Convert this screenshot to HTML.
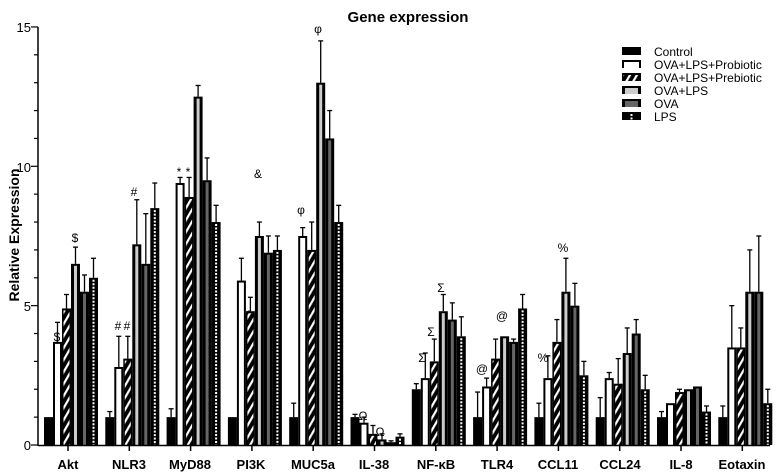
<!DOCTYPE html>
<html><head><meta charset="utf-8"><style>
body{margin:0;background:#fff}
svg{display:block;font-family:"Liberation Sans",Arial,sans-serif}
</style></head><body>
<svg id="s" width="776" height="474" viewBox="0 0 776 474">
<defs>
<pattern id="diag" patternUnits="userSpaceOnUse" width="6" height="6" patternTransform="rotate(30)">
<rect width="6" height="6" fill="#000"/><rect x="0" width="2.2" height="6" fill="#fff"/>
</pattern>
</defs>
<text x="408" y="22" font-size="15" font-weight="bold" text-anchor="middle">Gene expression</text>
<text transform="translate(19,235) rotate(-90)" font-size="14" font-weight="bold" text-anchor="middle">Relative Expression</text>
<g font-size="13" text-anchor="end">
<text x="31" y="450">0</text><text x="31" y="311">5</text><text x="31" y="172">10</text><text x="31" y="32">15</text>
</g>
<g font-size="13" font-weight="bold" text-anchor="middle">
<text x="68" y="469">Akt</text><text x="129" y="469">NLR3</text><text x="190" y="469">MyD88</text><text x="251" y="469">PI3K</text><text x="313" y="469">MUC5a</text><text x="374" y="469">IL-38</text><text x="436" y="469">NF-κB</text><text x="497" y="469">TLR4</text><text x="558" y="469">CCL11</text><text x="620" y="469">CCL24</text><text x="681" y="469">IL-8</text><text x="742" y="469">Eotaxin</text>
</g>
<g font-size="12">
<text x="654" y="56">Control</text><text x="654" y="69">OVA+LPS+Probiotic</text><text x="654" y="82">OVA+LPS+Prebiotic</text><text x="654" y="95">OVA+LPS</text><text x="654" y="108">OVA</text><text x="654" y="121">LPS</text>
</g>
<g font-size="12" text-anchor="middle">
<text x="57" y="341">$</text><text x="66" y="320">$</text><text x="75" y="242">$</text>
<text x="118" y="330">#</text><text x="127" y="330">#</text><text x="134" y="196">#</text>
<text x="179" y="176">*</text><text x="188" y="176">*</text><text x="196" y="138">*</text>
<text x="258" y="178">&amp;</text><text x="249" y="319">&amp;</text>
<text x="301" y="214">φ</text><text x="318" y="33">φ</text>
<text x="363" y="420">Ω</text><text x="380" y="436">Ω</text>
<text x="422" y="362">Σ</text><text x="431" y="336">Σ</text><text x="441" y="292">Σ</text>
<text x="482" y="373">@</text><text x="502" y="320">@</text>
<text x="543" y="362">%</text><text x="563" y="252">%</text>
</g>
<g id="bars"></g>
<line x1="38" y1="27" x2="38" y2="446" stroke="#000" stroke-width="1.5"/>
<line x1="38" y1="445.5" x2="770" y2="445.5" stroke="#000" stroke-width="1.5"/>
</svg>
<script>
var d=[[[1,1],[3.7,4.4],[4.9,5.4],[6.5,7.1],[5.5,6.1],[6,6.7]],
[[1,1.2],[2.8,3.9],[3.1,3.9],[7.2,8.8],[6.5,8.3],[8.5,9.4]],
[[1,1.3],[9.4,9.6],[8.9,9.6],[12.5,12.9],[9.5,10.3],[8,8.6]],
[[1,1],[5.9,6.7],[4.8,5.3],[7.5,8],[6.9,7.5],[7,7.5]],
[[1,1.5],[7.5,7.8],[7,8],[13,14.5],[11,12],[8,8.6]],
[[1,1.1],[0.8,1],[0.4,0.7],[0.2,0.4],[0.1,0.15],[0.3,0.4]],
[[2,2.2],[2.4,3.3],[3,3.8],[4.8,5.4],[4.5,5.1],[3.9,4.6]],
[[1,1.9],[2.1,2.4],[3.1,3.8],[3.9,3.9],[3.7,3.8],[4.9,5.4]],
[[1,1.5],[2.4,3.2],[3.7,4.5],[5.5,6.7],[5,5.8],[2.5,3]],
[[1,1.7],[2.4,2.6],[2.2,3.1],[3.3,4.2],[4,4.5],[2,2.5]],
[[1,1.2],[1.5,1.5],[1.9,2],[2,2],[2.1,2.1],[1.2,1.4]],
[[1,1.4],[3.5,5],[3.5,4.2],[5.5,7],[5.5,7.5],[1.5,2]]];
var Y=v=>445-v*27.87,h='';
function bar(x,y,w,hh,t){var s='<rect x="'+x+'" y="'+y+'" width="'+w+'" height="'+hh+'" fill="#000"/>';
if(hh<4)return s;
if(t==1)s+='<rect x="'+(x+2)+'" y="'+(y+2)+'" width="'+(w-4)+'" height="'+(hh-2)+'" fill="#fff"/>';
if(t==2)s+='<rect x="'+(x+1.5)+'" y="'+(y+2)+'" width="'+(w-3)+'" height="'+(hh-2)+'" fill="url(#diag)"/>';
if(t==3)s+='<rect x="'+(x+3)+'" y="'+(y+2)+'" width="'+(w-6)+'" height="'+(hh-2)+'" fill="#ccc"/>';
if(t==4)s+='<rect x="'+(x+3)+'" y="'+(y+2)+'" width="'+(w-6)+'" height="'+(hh-2)+'" fill="#666"/>';
if(t==5)s+='<line x1="'+(x+w/2)+'" y1="'+(y+2)+'" x2="'+(x+w/2)+'" y2="'+(y+hh)+'" stroke="#fff" stroke-width="2" stroke-dasharray="2,1.5"/>';
return s;}
d.forEach((g,i)=>{var c=68+61.3*i;g.forEach((b,j)=>{var x=c-24+j*9,y=Y(b[0]);
h+=bar(x,y,9,445-y,j);
if(b[1]>b[0]){var ye=Y(b[1]);h+='<line x1="'+(x+4.5)+'" y1="'+ye+'" x2="'+(x+4.5)+'" y2="'+y+'" stroke="#000" stroke-width="1.3"/><line x1="'+(x+2)+'" y1="'+ye+'" x2="'+(x+7)+'" y2="'+ye+'" stroke="#000" stroke-width="1.3"/>';}
});h+='<line x1="'+c+'" y1="445" x2="'+c+'" y2="451" stroke="#000" stroke-width="1.5"/>';});
for(var k=0;k<=15;k++){var len=k%5?4:7;h+='<line x1="'+(38-len)+'" y1="'+Y(k)+'" x2="38" y2="'+Y(k)+'" stroke="#000" stroke-width="1.2"/>';}
for(var j=0;j<6;j++)h+=bar(622,47+j*13,19,8,j);
document.getElementById('bars').innerHTML=h;
</script>
</body></html>
